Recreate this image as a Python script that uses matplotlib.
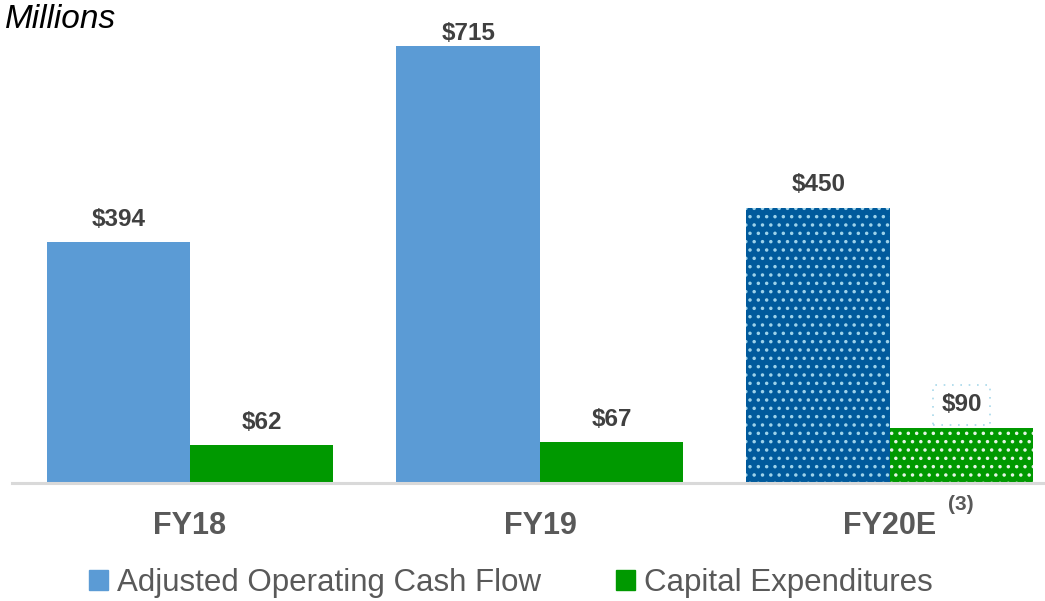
import numpy as np
import matplotlib.pyplot as plt
from matplotlib.patches import Patch

plt.rcParams["font.family"] = ["Liberation Sans", "DejaVu Sans"]
plt.rcParams["hatch.linewidth"] = 1.3

# data
years = ["FY18", "FY19", "FY20E"]
cash_flow = [394, 715, 450]
capex = [62, 67, 90]
estimate = [False, False, True]
series_names = ["Adjusted Operating Cash Flow", "Capital Expenditures"]

blue = "#5B9BD5"
green = "#009900"
dark_blue = "#005A9C"
label_color = "#404040"
tick_color = "#595959"

fig = plt.figure(figsize=(10.45, 6.01), dpi=100)
ax = fig.add_axes([12 / 1045, 1 - 483 / 601, 1 - 12 / 1045, 483 / 601])

x = np.arange(len(years))
w = 0.41

for i in range(len(years)):
    if estimate[i]:
        # estimated year: dotted fill
        ax.bar(x[i] - w / 2, cash_flow[i], w, color=dark_blue, edgecolor="#9CD2EA",
               hatch="..", linewidth=0)
        ax.bar(x[i] + w / 2, capex[i], w, color=green, edgecolor="#E4F4E4",
               hatch="..", linewidth=0)
    else:
        ax.bar(x[i] - w / 2, cash_flow[i], w, color=blue, linewidth=0)
        ax.bar(x[i] + w / 2, capex[i], w, color=green, linewidth=0)

ymax = 790
ax.set_ylim(0, ymax)
ax.set_xlim(-0.5086, 2.443)


def add_label(xpos, val, boxed=False):
    y = min(val + 27, ymax - 66)
    kw = {}
    if boxed:
        kw["bbox"] = dict(boxstyle="square,pad=0.35", fc="none", ec="#A8D8EA",
                          ls=(0, (1, 4)), lw=1.2)
    ax.text(xpos, y, "$%d" % val, ha="center", va="baseline", fontsize=17.5,
            fontweight="bold", color=label_color, **kw)


for i in range(len(years)):
    add_label(x[i] - w / 2, cash_flow[i])
    add_label(x[i] + w / 2, capex[i], boxed=estimate[i])

for s in ["top", "right", "left"]:
    ax.spines[s].set_visible(False)
ax.spines["bottom"].set_color("#D9D9D9")
ax.spines["bottom"].set_linewidth(2.2)
ax.set_yticks([])
ax.set_xticks(x)
ax.set_xticklabels(years, fontsize=22, fontweight="bold", color=tick_color)
ax.tick_params(axis="x", length=0, pad=20)

ax.annotate("(3)", xy=(x[2], 0), xytext=(71, -22), textcoords="offset pixels",
            ha="center", va="center", fontsize=15, fontweight="bold", color=tick_color)

fig.text(5 / 1045, 1 - 4 / 601, "Millions", fontsize=24, style="italic",
         ha="left", va="top", color="black")

handles = [Patch(color=blue), Patch(color=green)]
fig.legend(handles, series_names, loc="center", bbox_to_anchor=(0.489, 1 - 583 / 601),
           ncol=2, frameon=False, fontsize=22.5, labelcolor=tick_color,
           handlelength=0.6, handleheight=0.6, handletextpad=0.3, columnspacing=2.4)

fig.savefig("out.png", dpi=100)
